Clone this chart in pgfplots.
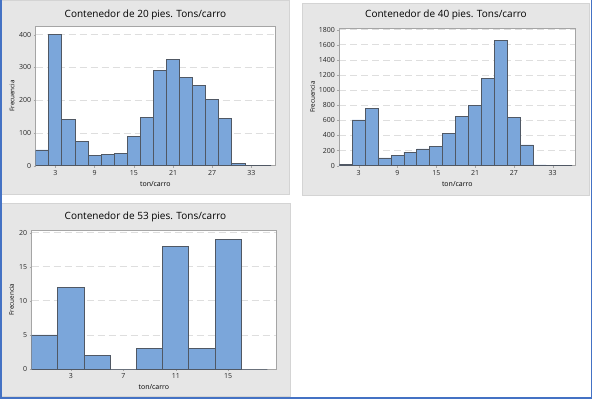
\documentclass[border=0pt]{standalone}
\usepackage{fontspec}
\setmainfont{Open Sans}
\usepackage{pgfplots}
\pgfplotsset{compat=1.18}
\definecolor{panelbg}{RGB}{230,230,230}
\definecolor{panelbd}{RGB}{212,212,212}
\definecolor{barfill}{RGB}{123,166,218}
\definecolor{baredge}{RGB}{80,88,100}
\definecolor{framec}{RGB}{165,165,165}
\definecolor{gridc}{RGB}{222,222,222}
\definecolor{wordblue}{RGB}{68,114,196}
\pgfplotsset{
  mtb/.style={
    scale only axis,
    anchor=south west,
    axis background/.style={fill=white},
    axis line style={draw=framec, line width=0.8pt},
    ymajorgrids,
    major grid style={draw=gridc, line width=0.8pt, dash pattern=on 7pt off 4pt},
    tick style={draw=framec},
    major tick length=2pt,
    tick align=outside,
    xtick pos=bottom, ytick pos=left,
    /pgf/number format/assume math mode=true,
    /pgf/number format/1000 sep={},
    ticklabel style={font=\fontsize{7}{8}\selectfont, text=black!85},
    xticklabel style={yshift=1pt},
    yticklabel style={xshift=1pt},
    xlabel={ton/carro},
    ylabel={Frecuencia},
    xlabel style={font=\fontsize{7}{8}\selectfont, at={(axis description cs:0.5,0)}, anchor=center, yshift=-18pt},
    ylabel style={font=\fontsize{6.3}{7}\selectfont},
    ymin=0,
  },
  bars/.style={ybar interval, fill=barfill, draw=baredge, line width=0.8pt},
}
\begin{document}
\begin{tikzpicture}[x=1pt,y=1pt]
\useasboundingbox (0pt,0pt) rectangle (592pt,399pt);
% panels
\fill[panelbg, draw=panelbd, line width=0.8pt] (1.5pt,205pt) rectangle (289pt,398.5pt);
\fill[panelbg, draw=panelbd, line width=0.8pt] (302pt,204pt) rectangle (589pt,396pt);
\fill[panelbg, draw=panelbd, line width=0.8pt] (1.5pt,3pt) rectangle (290pt,196pt);
% outer border
\draw[wordblue, line width=1.5pt] (0.75pt,399pt) -- (0.75pt,0.75pt) -- (591.25pt,0.75pt) -- (591.25pt,399pt);
% titles
\node[font=\fontsize{10}{12}\selectfont] at (145.5pt,384pt) {Contenedor de 20 pies. Tons/carro};
\node[font=\fontsize{10}{12}\selectfont] at (446pt,384pt) {Contenedor de 40 pies. Tons/carro};
\node[font=\fontsize{10}{12}\selectfont] at (145.5pt,182pt) {Contenedor de 53 pies. Tons/carro};

% Chart 1
\begin{axis}[mtb, at={(35.7pt,233.3pt)}, width=239.3pt, height=139.7pt,
  xmin=0, xmax=36.6, ymax=426.5,
  xtick={3,9,15,21,27,33}, ytick={0,100,200,300,400},
  ylabel style={at={(axis description cs:0,0.5)}, anchor=center, rotate=0, yshift=23.7pt}]
\addplot[bars] coordinates {
(0,48) (2,401) (4,141) (6,75) (8,32) (10,34) (12,38) (14,88) (16,148)
(18,292) (20,325) (22,270) (24,246) (26,203) (28,145) (30,7) (32,0) (34,0) (36,0)};
\end{axis}

% Chart 2
\begin{axis}[mtb, at={(339.3pt,233.3pt)}, width=236pt, height=137pt,
  xmin=0, xmax=36.5, ymax=1813,
  xtick={3,9,15,21,27,33}, ytick={0,200,...,1800},
  ylabel style={at={(axis description cs:0,0.5)}, anchor=center, yshift=26.6pt}]
\addplot[bars] coordinates {
(0,18) (2,605) (4,759) (6,102) (8,141) (10,181) (12,221) (14,256) (16,424)
(18,654) (20,800) (22,1152) (24,1652) (26,641) (28,274) (30,10) (32,0) (34,0) (36,0)};
\end{axis}

% Chart 3
\begin{axis}[mtb, at={(31.7pt,30pt)}, width=244.3pt, height=139pt,
  xmin=0, xmax=18.65, ymax=20.4,
  xtick={3,7,11,15}, ytick={0,5,10,15,20},
  ylabel style={at={(axis description cs:0,0.5)}, anchor=center, yshift=20pt}]
\addplot[bars] coordinates {
(0,5) (2,12) (4,2) (6,0) (8,3) (10,18) (12,3) (14,19) (16,0) (18,0)};
\end{axis}
\end{tikzpicture}
\end{document}
